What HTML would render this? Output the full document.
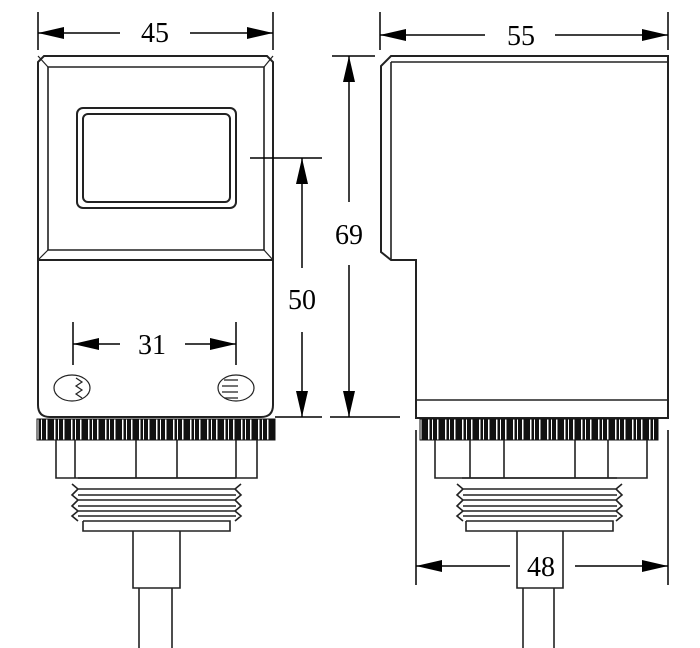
<!DOCTYPE html>
<html><head><meta charset="utf-8"><style>
html,body{margin:0;padding:0;background:#fff;width:700px;height:648px;overflow:hidden}
svg{display:block}
text{font-family:"Liberation Serif",serif;font-size:28px;fill:#000}
</style></head><body>
<svg width="700" height="648" viewBox="0 0 700 648" xmlns="http://www.w3.org/2000/svg">
<defs>
<pattern id="kn" x="0" y="0" width="17" height="22" patternUnits="userSpaceOnUse">
<rect width="17" height="22" fill="#111"/>
<rect x="3" width="1.5" height="22" fill="#fff"/>
<rect x="7" width="1" height="22" fill="#fff"/>
<rect x="12" width="1.5" height="22" fill="#fff"/>
</pattern>
</defs>
<g fill="none" stroke="#222" stroke-width="2">
<path d="M44,56 H267 L273,62 V405 Q273,417 261,417 H50 Q38,417 38,405 V62 Z"/>
<path d="M48,67 H264 V250 H48 Z" stroke-width="1.6"/>
<line x1="38" y1="56" x2="48" y2="67" stroke-width="1.2"/>
<line x1="273" y1="56" x2="264" y2="67" stroke-width="1.2"/>
<line x1="38" y1="260" x2="48" y2="250" stroke-width="1.2"/>
<line x1="273" y1="260" x2="264" y2="250" stroke-width="1.2"/>
<line x1="38" y1="260" x2="273" y2="260"/>
<rect x="77" y="108" width="159" height="100" rx="6"/>
<rect x="83" y="114" width="147" height="88" rx="5"/>
<ellipse cx="72" cy="388" rx="18" ry="13" stroke-width="1.2"/>
<ellipse cx="236" cy="388" rx="18" ry="13" stroke-width="1.2"/>
<path d="M76,378 l6,4 -6,4 6,4 -6,4 6,4 M224,380 h14 M222,386 h16 M222,392 h16 M224,398 h14" stroke-width="1.2"/>
<rect x="37" y="419" width="238" height="21" fill="url(#kn)" stroke="#111" stroke-width="1"/>
<path d="M56,440 V478 H257 V440 M75,440 V478 M136,440 V478 M177,440 V478 M236,440 V478" stroke-width="1.6"/>
<path d="M78,478 H236 M72,484 L78,489 L72,495 L78,500 L72,506 L78,511 L72,516 L78,521 M241,484 L235,489 L241,495 L235,500 L241,506 L235,511 L241,516 L235,521 M78,489 H235 M78,495 H236 M78,500 H235 M78,506 H236 M78,511 H235 M78,516 H236 M83,521 V531 H230 V521 H83" stroke-width="1.6"/>
<path d="M133,531 V588 H180 V531 M139,588 V648 M172,588 V648" stroke-width="1.6"/>

<path d="M391,56 H668 V418 H416 V260 H391 L381,252 V66 Z"/>
<line x1="391" y1="62" x2="668" y2="62" stroke-width="1.4"/>
<line x1="391" y1="62" x2="391" y2="260" stroke-width="1.6"/>
<line x1="416" y1="400" x2="668" y2="400" stroke-width="1.4"/>
<rect x="420" y="419" width="238" height="21" fill="url(#kn)" stroke="#111" stroke-width="1"/>
<path d="M435,440 V478 H647 V440 M470,440 V478 M504,440 V478 M575,440 V478 M608,440 V478" stroke-width="1.6"/>
<path d="M462,478 H617 M457,484 L463,489 L457,495 L463,500 L457,506 L463,511 L457,516 L463,521 M622,484 L616,489 L622,495 L616,500 L622,506 L616,511 L622,516 L616,521 M463,489 H616 M463,495 H617 M463,500 H616 M463,506 H617 M463,511 H616 M463,516 H617 M466,521 V531 H613 V521 H466" stroke-width="1.6"/>
<path d="M517,531 V588 H563 V531 M523,588 V648 M554,588 V648" stroke-width="1.6"/>
</g>

<g stroke="#000" stroke-width="1.5" fill="none">
<line x1="38" y1="12" x2="38" y2="50"/><line x1="273" y1="12" x2="273" y2="50"/>
<line x1="38" y1="33" x2="120" y2="33"/><line x1="190" y1="33" x2="273" y2="33"/>
<line x1="380" y1="12" x2="380" y2="50"/><line x1="668" y1="12" x2="668" y2="50"/>
<line x1="380" y1="35" x2="485" y2="35"/><line x1="555" y1="35" x2="668" y2="35"/>
<line x1="73" y1="322" x2="73" y2="365"/><line x1="236" y1="322" x2="236" y2="365"/>
<line x1="73" y1="344" x2="120" y2="344"/><line x1="185" y1="344" x2="236" y2="344"/>
<line x1="250" y1="158" x2="322" y2="158"/>
<line x1="275" y1="417" x2="322" y2="417"/><line x1="330" y1="417" x2="400" y2="417"/>
<line x1="332" y1="56" x2="375" y2="56"/>
<line x1="302" y1="158" x2="302" y2="268"/><line x1="302" y1="332" x2="302" y2="417"/>
<line x1="349" y1="56" x2="349" y2="202"/><line x1="349" y1="265" x2="349" y2="417"/>
<line x1="416" y1="430" x2="416" y2="585"/><line x1="668" y1="430" x2="668" y2="585"/>
<line x1="416" y1="566" x2="510" y2="566"/><line x1="575" y1="566" x2="668" y2="566"/>
</g>
<g fill="#000">
<polygon points="38,33 64,27 64,39"/><polygon points="273,33 247,27 247,39"/>
<polygon points="380,35 406,29 406,41"/><polygon points="668,35 642,29 642,41"/>
<polygon points="73,344 99,338 99,350"/><polygon points="236,344 210,338 210,350"/>
<polygon points="302,158 296,184 308,184"/><polygon points="302,417 296,391 308,391"/>
<polygon points="349,56 343,82 355,82"/><polygon points="349,417 343,391 355,391"/>
<polygon points="416,566 442,560 442,572"/><polygon points="668,566 642,560 642,572"/>
</g>
<text x="155" y="42" text-anchor="middle">45</text>
<text x="521" y="45" text-anchor="middle">55</text>
<text x="152" y="354" text-anchor="middle">31</text>
<text x="302" y="309" text-anchor="middle">50</text>
<text x="349" y="244" text-anchor="middle">69</text>
<text x="541" y="576" text-anchor="middle">48</text>
</svg>
</body></html>
